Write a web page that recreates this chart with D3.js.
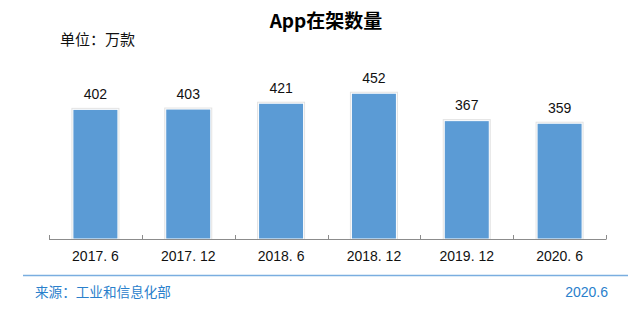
<!DOCTYPE html>
<html>
<head>
<meta charset="utf-8">
<script src="https://cdn.jsdelivr.net/npm/d3@7"></script>
<style>
  body { margin: 0; background: #fff; }
  text { font-family: "Liberation Sans", Arial, "Noto Sans CJK SC", sans-serif; }
</style>
</head>
<body>
<div id="chart"></div>
<script>
// chart data
var periods = ["2017. 6", "2017. 12", "2018. 6", "2018. 12", "2019. 12", "2020. 6"];
var appCounts = [402, 403, 421, 452, 367, 359];

(function() {
    var W = 641, H = 313;
    var plot = {left: 49, right: 606, base: 239};

    var svg = d3.select("#chart")
        .append("svg")
        .attr("width", W)
        .attr("height", H);

    var x = d3.scaleBand()
        .domain(periods)
        .range([plot.left, plot.right])
        .paddingInner(0.515)
        .paddingOuter(0.2575);

    var y = d3.scaleLinear()
        .domain([0, 500])
        .range([plot.base, plot.base - 161.25]);

    // Title and unit
    svg.append("text")
        .attr("x", 326)
        .attr("y", 28)
        .attr("text-anchor", "middle")
        .style("font-size", "19px")
        .style("font-weight", "bold")
        .style("font-family", "'Noto Sans CJK SC', sans-serif")
        .text("App在架数量");

    svg.append("text")
        .attr("x", 60)
        .attr("y", 45)
        .style("font-size", "15px")
        .style("font-family", "'Noto Sans CJK SC', sans-serif")
        .attr("fill", "#111")
        .text("单位：万款");

    // bar shadow/border then bar
    var bars = svg.append("g");
    bars.selectAll(".shadow")
        .data(appCounts)
        .enter()
        .append("rect")
        .attr("x", function(d, i) { return x(periods[i]) - 1.5; })
        .attr("y", function(d) { return y(d) - 1.5; })
        .attr("width", x.bandwidth() + 3)
        .attr("height", function(d) { return plot.base - y(d) + 1.5; })
        .attr("fill", "#e3e3e3");

    bars.selectAll(".bar")
        .data(appCounts)
        .enter()
        .append("rect")
        .attr("x", function(d, i) { return x(periods[i]); })
        .attr("y", function(d) { return y(d); })
        .attr("width", x.bandwidth())
        .attr("height", function(d) { return plot.base - y(d); })
        .attr("fill", "#5b9bd5")
        .attr("stroke", "#ffffff")
        .attr("stroke-width", 1);

    // value labels
    svg.append("g").selectAll("text")
        .data(appCounts)
        .enter()
        .append("text")
        .attr("x", function(d, i) { return x(periods[i]) + x.bandwidth() / 2; })
        .attr("y", function(d) { return y(d) - 10.5; })
        .attr("text-anchor", "middle")
        .style("font-size", "14px")
        .attr("fill", "#111")
        .text(function(d) { return d; });

    // x axis with labels
    var xAxis = svg.append("g")
        .attr("transform", "translate(0," + plot.base + ")")
        .call(d3.axisBottom(x).tickSize(0).tickPadding(12));
    xAxis.select(".domain").remove();
    xAxis.selectAll("text")
        .style("font-size", "14px")
        .style("font-family", "'Liberation Sans', Arial, sans-serif")
        .attr("fill", "#111");

    // axis line and boundary ticks
    svg.append("line")
        .attr("x1", plot.left).attr("x2", plot.right)
        .attr("y1", plot.base + 0.5).attr("y2", plot.base + 0.5)
        .attr("stroke", "#8c8c8c")
        .attr("stroke-width", 1);

    svg.append("g").selectAll("line")
        .data(d3.range(periods.length + 1))
        .enter()
        .append("line")
        .attr("x1", function(i) { return Math.round(plot.left + i * x.step()) + 0.5; })
        .attr("x2", function(i) { return Math.round(plot.left + i * x.step()) + 0.5; })
        .attr("y1", plot.base - 4)
        .attr("y2", plot.base + 0.5)
        .attr("stroke", "#8c8c8c");

    // footer
    svg.append("line")
        .attr("x1", 23).attr("x2", 628)
        .attr("y1", 275.5).attr("y2", 275.5)
        .attr("stroke", "#7aaee0")
        .attr("stroke-width", 1.5);

    svg.append("text")
        .attr("x", 35)
        .attr("y", 297)
        .style("font-size", "13.6px")
        .style("font-family", "'Noto Sans CJK SC', sans-serif")
        .attr("fill", "#2a80cc")
        .text("来源：工业和信息化部");

    svg.append("text")
        .attr("x", 608)
        .attr("y", 297)
        .attr("text-anchor", "end")
        .style("font-size", "14px")
        .attr("fill", "#2a80cc")
        .text("2020.6");
})();
</script>
</body>
</html>
